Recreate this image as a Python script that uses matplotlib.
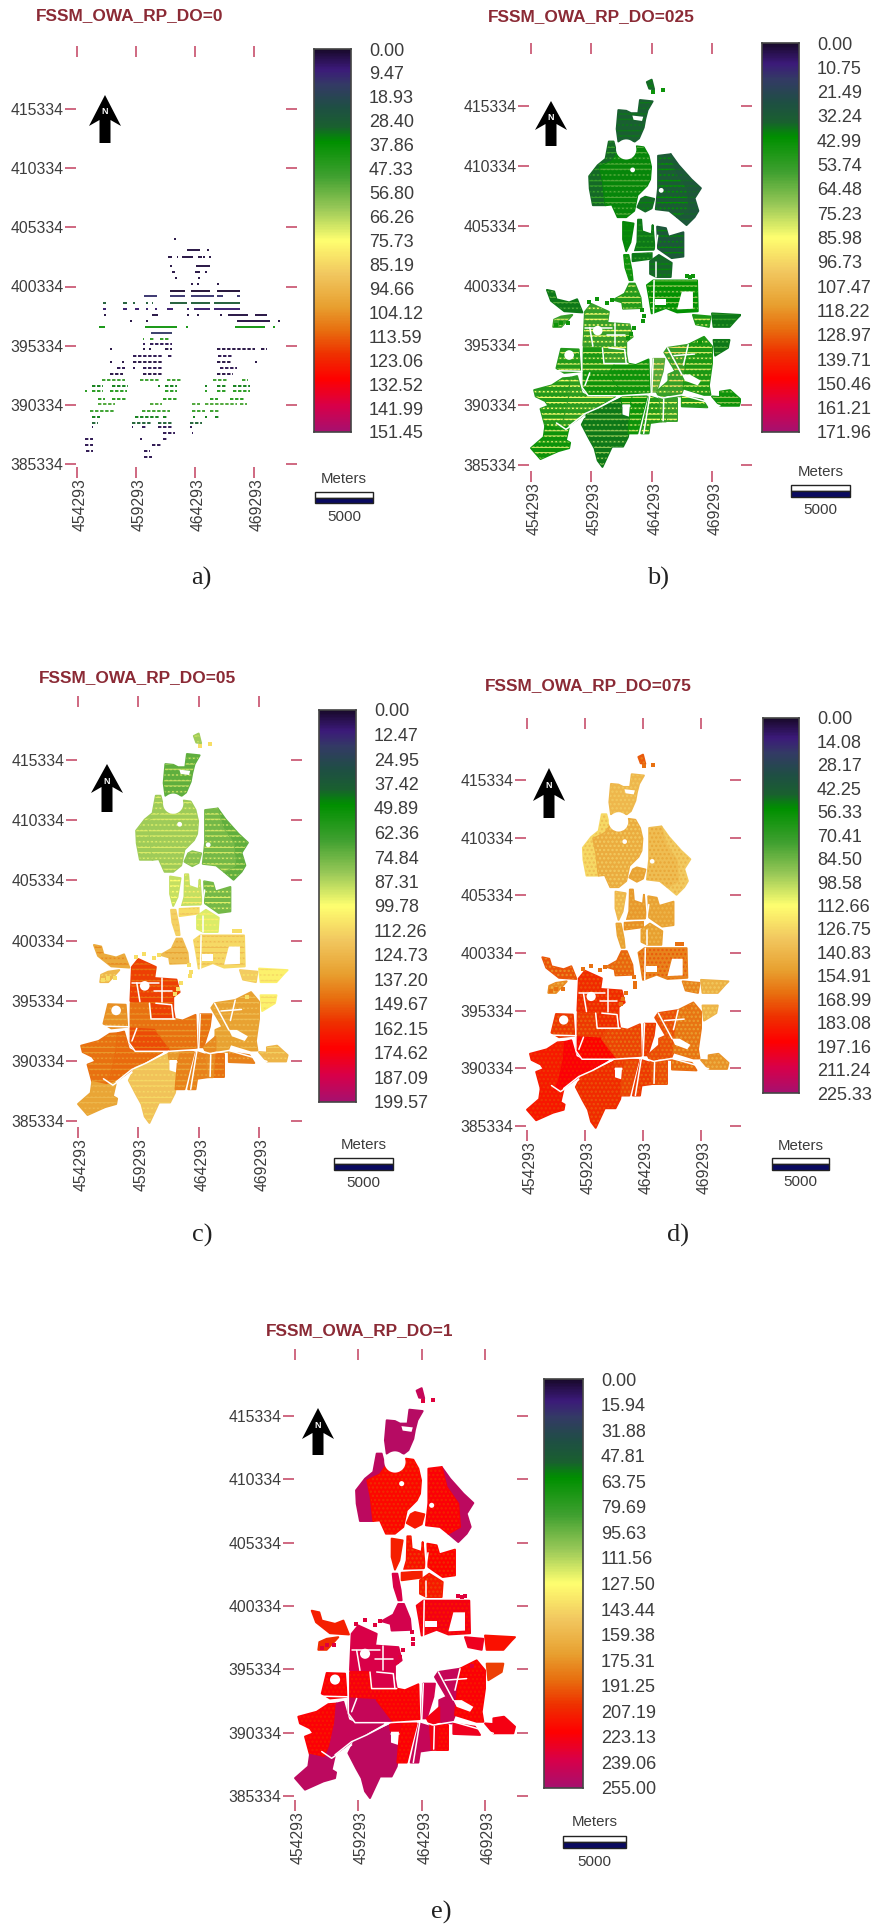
import matplotlib
matplotlib.use('Agg')
import matplotlib.pyplot as plt
from matplotlib.colors import LinearSegmentedColormap
from matplotlib.patches import Polygon, Circle, Rectangle
from matplotlib.transforms import ScaledTranslation
import numpy as np

# panel text and colour bar ticks
TITLES = ['FSSM_OWA_RP_DO=0', 'FSSM_OWA_RP_DO=025', 'FSSM_OWA_RP_DO=05', 'FSSM_OWA_RP_DO=075', 'FSSM_OWA_RP_DO=1']
CAPTIONS = ['a)', 'b)', 'c)', 'd)', 'e)']
TICKS_A = ['0.00', '9.47', '18.93', '28.40', '37.86', '47.33', '56.80', '66.26', '75.73', '85.19', '94.66', '104.12', '113.59', '123.06', '132.52', '141.99', '151.45']
TICKS_B = ['0.00', '10.75', '21.49', '32.24', '42.99', '53.74', '64.48', '75.23', '85.98', '96.73', '107.47', '118.22', '128.97', '139.71', '150.46', '161.21', '171.96']
TICKS_C = ['0.00', '12.47', '24.95', '37.42', '49.89', '62.36', '74.84', '87.31', '99.78', '112.26', '124.73', '137.20', '149.67', '162.15', '174.62', '187.09', '199.57']
TICKS_D = ['0.00', '14.08', '28.17', '42.25', '56.33', '70.41', '84.50', '98.58', '112.66', '126.75', '140.83', '154.91', '168.99', '183.08', '197.16', '211.24', '225.33']
TICKS_E = ['0.00', '15.94', '31.88', '47.81', '63.75', '79.69', '95.63', '111.56', '127.50', '143.44', '159.38', '175.31', '191.25', '207.19', '223.13', '239.06', '255.00']
ALL_TICKS = [TICKS_A, TICKS_B, TICKS_C, TICKS_D, TICKS_E]
EAST_TICKS = [454293, 459293, 464293, 469293]
NORTH_TICKS = [415334, 410334, 405334, 400334, 395334, 390334, 385334]

# map blocks, km east of 454293 / km north of 385334
BLOCKS = [
    [(9.6, 32.0), (10.0, 32.2), (10.2, 31.4), (9.8, 31.45)],
    [(7.24, 29.66), (7.89, 29.6), (8.29, 29.4), (8.89, 29.4), (9.03, 30.5), (10.08, 30.39), (9.66, 29.66), (9.47, 28.92), (9.34, 28.2), (8.95, 27.3), (8.6, 27.03), (7.89, 27.2), (7.24, 27.03), (7.1, 28.08)],
    [(6.45, 27.03), (6.84, 27.03), (7.11, 25.97), (6.71, 25.39), (5.71, 24.92), (5.97, 23.61), (6.18, 21.71), (5.13, 21.71), (4.87, 23.08), (4.82, 24.13), (5.53, 25.05), (6.18, 25.58)],
    [(7.11, 25.97), (7.5, 25.63), (7.89, 25.55), (8.42, 25.71), (8.76, 26.24), (8.76, 26.63), (9.34, 26.55), (9.74, 25.84), (9.95, 24.92), (9.87, 23.87), (9.61, 23.34), (8.82, 22.55), (8.55, 21.24), (7.89, 20.71), (7.18, 20.71), (6.71, 21.76), (6.18, 21.71), (5.97, 23.61), (5.71, 24.92), (6.71, 25.39)],
    [(11.58, 25.97), (12.24, 25.05), (13.29, 23.87), (14.08, 23.13), (13.55, 22.29), (13.87, 21.24), (13.55, 20.71), (12.89, 20.05), (12.11, 20.71), (13.03, 21.24), (12.89, 23.08), (11.97, 24.39)],
    [(10.53, 25.84), (11.58, 25.97), (11.97, 24.39), (12.89, 23.08), (13.03, 21.24), (12.11, 20.71), (11.45, 21.24), (10.34, 21.37), (10.53, 23.13)],
    [(9.47, 22.42), (10.21, 22.24), (10.0, 21.45), (9.47, 21.18), (8.82, 21.55), (9.13, 22.24)],
    [(7.63, 20.32), (8.5, 20.18), (8.24, 18.61), (7.89, 17.87), (7.63, 18.87)],
    [(8.87, 20.5), (9.13, 20.5), (9.21, 19.53), (10.0, 19.26), (10.08, 20.05), (10.24, 18.08), (10.08, 17.87), (8.61, 17.87), (8.82, 18.61)],
    [(10.45, 19.92), (11.18, 19.79), (11.39, 19.08), (12.63, 19.45), (12.63, 17.42), (11.66, 17.29), (10.53, 18.08)],
    [(8.42, 17.63), (10.0, 17.74), (10.0, 17.24), (8.42, 17.03)],
    [(9.87, 17.03), (10.6, 17.55), (11.66, 16.89), (11.58, 15.71), (10.39, 15.71), (9.87, 15.97)],
    [(7.71, 17.55), (8.08, 17.55), (8.34, 16.24), (8.42, 15.45), (8.16, 15.45), (7.82, 16.5)],
    [(8.16, 15.16), (8.6, 15.16), (9.08, 13.98), (9.16, 13.12), (7.63, 13.06), (7.55, 13.59), (6.84, 13.8), (7.76, 14.32)],
    [(9.61, 15.03), (10.13, 15.42), (11.71, 15.42), (13.76, 15.42), (13.82, 12.85), (12.11, 12.75), (11.18, 13.12), (10.0, 12.67), (9.82, 13.85)],
    [(1.32, 14.63), (1.92, 14.5), (2.11, 13.85), (3.16, 13.59), (3.82, 13.85), (4.26, 12.75), (2.76, 12.85), (1.66, 13.72)],
    [(1.84, 11.54), (1.92, 12.15), (2.5, 12.41), (3.42, 12.54), (3.0, 12.07), (2.5, 11.54)],
    [(4.47, 12.8), (5.0, 13.46), (6.45, 12.8), (6.32, 11.88), (8.16, 11.75), (8.42, 10.71), (7.89, 10.31), (7.89, 9.27), (8.03, 8.48), (6.05, 8.48), (5.92, 9.79), (4.34, 9.92)],
    [(4.34, 9.79), (5.92, 9.79), (6.05, 8.48), (6.97, 8.48), (6.45, 7.57), (4.26, 7.7)],
    [(4.26, 7.7), (6.45, 7.57), (7.76, 5.86), (4.74, 5.86), (4.21, 6.52)],
    [(6.97, 8.48), (8.03, 8.48), (8.68, 8.35), (9.74, 8.82), (9.82, 6.0), (7.76, 5.86), (6.45, 7.57)],
    [(2.11, 8.09), (2.5, 9.71), (3.95, 9.66), (4.08, 7.83), (2.76, 7.7)],
    [(0.26, 6.26), (1.71, 6.65), (2.63, 7.25), (3.29, 7.3), (3.16, 5.73), (2.76, 3.9), (2.37, 2.98), (1.18, 3.25), (0.79, 4.69), (1.45, 4.95), (1.18, 5.34), (0.39, 5.73)],
    [(3.29, 7.3), (3.82, 7.43), (4.21, 6.0), (4.74, 5.73), (6.97, 5.73), (4.47, 4.29), (3.16, 3.25), (2.37, 2.98), (2.76, 3.9), (3.16, 5.73)],
    [(2.37, 2.98), (3.16, 3.25), (2.89, 2.07), (3.24, 1.86), (3.16, 1.41), (2.24, 1.15), (0.79, 0.5), (0.0, 1.41), (1.05, 2.33), (1.18, 3.25)],
    [(7.5, 5.6), (7.5, 4.16), (8.29, 3.9), (8.03, 2.33), (7.63, 1.54), (6.71, 1.54), (5.92, -0.16), (5.53, 0.37), (5.26, 1.41), (4.82, 2.2), (4.21, 3.38), (4.74, 4.42), (6.05, 4.95)],
    [(8.34, 5.73), (9.61, 5.73), (9.13, 3.9), (8.82, 2.64), (8.08, 2.64)],
    [(9.82, 5.73), (10.66, 5.47), (10.79, 3.64), (9.87, 3.51), (9.74, 2.64), (9.13, 2.64)],
    [(11.32, 5.6), (12.11, 5.6), (12.11, 3.64), (11.18, 3.64)],
    [(10.13, 8.87), (11.05, 8.87), (10.92, 7.83), (10.39, 6.13), (10.0, 6.13)],
    [(11.32, 9.79), (13.03, 10.05), (12.76, 7.57), (12.63, 6.39), (12.37, 5.73), (11.39, 5.86), (11.39, 7.57), (11.97, 7.83), (11.05, 9.4)],
    [(13.03, 10.05), (14.34, 10.71), (15.0, 9.92), (15.0, 8.48), (14.74, 6.65), (14.87, 5.86), (14.34, 5.86), (12.63, 6.39), (12.76, 7.57)],
    [(15.13, 10.45), (16.45, 10.45), (16.32, 9.79), (15.26, 9.14)],
    [(15.0, 12.67), (17.37, 12.54), (17.11, 12.28), (16.45, 11.54), (15.13, 11.54)],
    [(13.42, 12.54), (14.87, 12.41), (14.74, 11.54), (13.68, 11.75)],
    [(12.5, 5.73), (14.21, 5.47), (14.61, 4.82), (12.5, 4.9)],
    [(15.0, 5.73), (15.66, 5.68), (15.66, 6.13), (16.5, 6.26), (17.37, 5.47), (17.24, 4.95), (15.66, 4.95)],
    [(7.5, 5.7), (8.34, 5.73), (8.2, 5.15), (7.55, 5.15)],
    [(10.66, 5.47), (11.32, 5.6), (11.18, 3.64), (10.79, 3.64)],
    [(10.4, 6.13), (11.39, 7.0), (11.39, 5.86), (10.66, 5.6)],
]

# block values read against each panel's colour bar (base colour, stripe colour)
B_BASE = [36, 34, 36, 40, 30, 32, 36, 40, 38, 30, 38, 35, 45, 50, 42, 38, 55, 55, 48, 45, 45, 50, 50, 52, 45, 38, 45, 50, 55, 60, 55, 48, 38, 38, 48, 50, 45, 45, 55, 55]
B_STRIPE = [40, 38, 55, 60, 36, 42, 40, 44, 50, 40, 55, 40, 60, 78, 70, 60, 78, 85, 80, 75, 72, 80, 85, 85, 78, 70, 78, 85, 85, 95, 95, 80, 60, 55, 80, 85, 70, 78, 85, 85]
C_BASE = [84, 72, 84, 84, 72, 76, 80, 90, 90, 76, 110, 94, 114, 122, 112, 130, 124, 156, 146, 154, 146, 138, 146, 148, 132, 120, 142, 142, 146, 146, 134, 134, 104, 104, 116, 142, 126, 136, 140, 140]
C_STRIPE = [90, 90, 94, 94, 90, 92, 90, 100, 105, 95, 118, 105, 120, 132, 122, 140, 112, 146, 138, 144, 136, 128, 136, 138, 124, 112, 132, 132, 136, 136, 124, 122, 112, 112, 108, 128, 114, 124, 128, 128]
D_BASE = [170, 140, 126, 146, 132, 138, 150, 140, 154, 150, 156, 152, 150, 168, 160, 172, 158, 182, 178, 194, 176, 178, 187, 196, 188, 182, 176, 178, 173, 178, 173, 164, 142, 144, 160, 167, 155, 178, 174, 174]
D_STRIPE = [160, 132, 138, 132, 142, 148, 140, 130, 144, 140, 144, 140, 142, 156, 170, 156, 142, 172, 168, 182, 164, 168, 178, 187, 178, 172, 166, 168, 162, 168, 162, 152, 130, 132, 146, 152, 142, 168, 165, 165]
E_BASE = [245, 250, 248, 218, 248, 222, 212, 210, 215, 220, 210, 212, 238, 240, 225, 210, 205, 238, 224, 245, 222, 222, 222, 245, 248, 248, 222, 245, 222, 240, 245, 222, 200, 215, 228, 228, 225, 225, 225, 225]
E_STRIPE = [245, 250, 248, 205, 248, 208, 212, 210, 200, 205, 210, 200, 238, 240, 212, 210, 205, 238, 212, 245, 212, 212, 212, 245, 248, 248, 212, 245, 212, 240, 245, 212, 200, 215, 228, 228, 225, 225, 225, 225]

# isolated cells: centre point, one value per panel b-e
SPECK_E = [10.1, 10.9, 9.21, 9.34, 9.29, 6.32, 4.82, 8.55, 8.29, 8.08, 13.16, 12.9, 13.4, 5.5, 6.7, 2.1, 2.5, 3.1, 14.0]
SPECK_N = [31.2, 31.3, 12.93, 12.41, 12.02, 13.53, 13.59, 11.49, 10.97, 10.58, 15.75, 15.8, 15.8, 13.9, 13.8, 11.7, 11.9, 11.9, 10.3]
SPECK_VALUES = [45, 110, 165, 235]

# white gaps: roads as polylines, holes as circles and polygons
ROADS = [
    [(4.21, 9.92), (4.21, 6.52), (4.74, 5.79), (7.5, 5.79), (9.87, 5.94)],
    [(7.5, 5.79), (5.66, 4.82), (4.47, 4.29), (3.16, 3.25)],
    [(9.87, 5.94), (9.34, 2.64)],
    [(9.87, 5.94), (10.92, 5.6), (12.5, 5.86), (14.34, 5.34), (15.66, 4.95)],
    [(11.32, 9.79), (12.5, 7.57)],
    [(10.13, 8.87), (10.0, 5.94)],
    [(5.92, 9.79), (6.05, 8.48), (8.03, 8.48)],
    [(6.97, 11.88), (6.97, 9.92)],
    [(6.32, 10.84), (7.76, 10.84)],
    [(6.45, 9.79), (7.76, 9.66), (7.89, 8.48)],
    [(4.87, 11.49), (5.13, 9.92)],
    [(4.47, 11.49), (6.71, 11.49)],
    [(2.11, 7.88), (4.21, 7.83)],
    [(4.87, 7.7), (4.47, 6.65)],
    [(2.11, 3.51), (2.89, 2.98), (4.47, 4.03)],
    [(13.03, 10.05), (12.63, 8.35)],
    [(11.84, 9.14), (13.55, 9.27)],
    [(10.2, 15.42), (10.15, 12.67)],
    [(8.42, 17.8), (10.3, 17.85), (10.5, 19.2)],
    [(10.35, 17.0), (10.35, 15.7)],
    [(7.6, 4.9), (8.2, 4.9)],
    [(11.0, 5.5), (10.95, 3.7)],
]
HOLE_E = [7.89, 8.42, 10.79, 5.53, 3.16]
HOLE_N = [26.37, 24.66, 22.95, 11.23, 9.19]
HOLE_R = [0.84, 0.2, 0.2, 0.4, 0.4]
HOLE_POLYS = [
    [(8.4, 29.2), (9.3, 29.1), (9.2, 28.75), (8.5, 28.85)],
    [(12.5, 14.5), (13.42, 14.5), (13.42, 13.06), (12.11, 13.0)],
    [(10.26, 13.85), (11.18, 13.85), (11.18, 13.33), (10.26, 13.33)],
    [(12.5, 7.57), (13.16, 7.57), (14.08, 7.04), (13.82, 6.65), (12.76, 7.04)],
]

# panel a, short raster runs in rows: northing, value, runs of (east start, east end)
A_ROW_N = [19.04, 18.05, 17.5, 16.7, 16.2, 15.7, 15.2, 14.66, 14.2, 13.6, 13.1, 12.6, 12.1, 11.6, 11.1, 10.56, 10.14, 9.7, 9.15, 8.64, 8.08, 7.6, 7.1, 6.6, 6.13, 5.48, 5.06, 4.5, 3.98, 3.5, 3.14, 2.66, 2.15, 1.6, 1.1, 0.62]
A_ROW_VALUE = [2, 2, 2, 2, 2, 2, 2, 1, 12, 28, 6, 2, 2, 40, 14, 46, 4, 2, 3, 2, 3, 2, 48, 34, 44, 44, 52, 48, 34, 30, 4, 3, 3, 3, 3, 3]
A_ROW_RUNS = [
    [(8.25, 8.4)],
    [(9.29, 10.42), (10.99, 11.15)],
    [(7.74, 8.02), (8.45, 8.6), (8.87, 9.86), (10.28, 10.56), (10.71, 10.85), (11.2, 11.35)],
    [(7.88, 8.02), (10.08, 11.27)],
    [(8.02, 8.31), (10.0, 10.42), (10.85, 11.0)],
    [(8.31, 8.45), (10.28, 10.42)],
    [(9.63, 9.86), (10.2, 10.35), (11.84, 12.0)],
    [(7.88, 9.15), (9.63, 11.27), (11.84, 13.81)],
    [(5.68, 6.81), (7.88, 9.15), (9.63, 11.61), (11.84, 12.4), (13.53, 13.81)],
    [(2.23, 2.46), (3.93, 4.21), (4.77, 4.9), (5.85, 6.05), (6.33, 6.45), (7.88, 9.29), (9.63, 11.27), (11.61, 13.81)],
    [(2.23, 2.46), (3.93, 4.21), (4.92, 5.28), (5.85, 6.05), (6.61, 6.75), (7.6, 8.16), (9.35, 9.5), (9.92, 11.27), (11.61, 13.81)],
    [(2.32, 2.46), (6.33, 6.89), (9.35, 9.5), (10.14, 10.3), (12.12, 12.3), (12.82, 14.52), (15.08, 16.07)],
    [(4.49, 4.65), (5.85, 6.05), (13.53, 16.36), (17.06, 17.2)],
    [(1.89, 2.37), (5.76, 8.45), (9.24, 9.4), (13.39, 15.93), (16.64, 16.8)],
    [(6.24, 8.02)],
    [(5.56, 5.7), (6.19, 6.61), (7.03, 7.88)],
    [(5.56, 5.76), (6.19, 8.02)],
    [(2.8, 2.95), (5.62, 5.75), (6.13, 6.28), (7.46, 8.02), (11.84, 15.08), (15.56, 16.07)],
    [(4.77, 7.18), (7.74, 8.02), (11.98, 13.25)],
    [(2.8, 2.95), (3.79, 3.95), (4.77, 7.32), (11.84, 13.11), (15.08, 15.25)],
    [(3.36, 4.07), (4.77, 4.92), (5.62, 7.32), (12.12, 13.53)],
    [(2.8, 3.93), (5.62, 7.32), (11.84, 13.25)],
    [(2.09, 4.07), (5.34, 7.03), (7.6, 8.87), (11.56, 12.68), (13.95, 14.52)],
    [(1.24, 2.23), (2.94, 4.35), (6.89, 7.05), (7.46, 8.45), (10.85, 11.0), (11.84, 12.68), (13.25, 14.66)],
    [(0.68, 0.82), (1.24, 2.23), (2.8, 4.21), (7.46, 8.45), (10.85, 11.0), (11.84, 12.68), (13.25, 14.66)],
    [(1.81, 2.37), (2.94, 4.21), (7.32, 8.45), (11.27, 11.98), (12.96, 14.24)],
    [(1.81, 3.22), (6.19, 7.18), (9.72, 10.42), (10.85, 13.53), (13.81, 14.38)],
    [(1.1, 3.22), (5.48, 7.88), (9.72, 10.85), (11.27, 12.12)],
    [(1.24, 1.95), (4.92, 7.03), (7.32, 7.74), (9.86, 10.0), (10.85, 11.0), (11.69, 12.12)],
    [(1.24, 1.81), (4.63, 6.33), (6.89, 8.16), (9.58, 10.56)],
    [(1.24, 1.38), (4.63, 4.78), (5.48, 5.9), (6.89, 8.16), (9.58, 9.72)],
    [(7.32, 8.31), (9.72, 9.87)],
    [(0.68, 1.38), (5.34, 5.5), (7.32, 7.74)],
    [(0.68, 1.38), (6.33, 7.18)],
    [(0.76, 1.38), (5.68, 6.19)],
    [(5.68, 6.33)],
]

BAR_COLOURS = [(0, '#1a0a2e'), (0.05, '#3c1a7a'), (0.09, '#343a66'), (0.15, '#1f4f44'), (0.2, '#1a6030'), (0.24, '#009000'),
               (0.33, '#3fa030'), (0.415, '#98c858'), (0.5, '#ffff70'), (0.587, '#f2c860'), (0.674, '#e8a030'), (0.735, '#e87010'),
               (0.8, '#ef3000'), (0.865, '#ff0000'), (0.935, '#d8004a'), (1, '#a8106e')]

# layout in reference pixels
W, H = 878, 1925
X_TICK_PX = [(77, 254), (531, 712), (78, 259), (527, 701), (295, 485)]
Y_TICK_PX = [(109, 464), (106, 465), (760, 1121), (780, 1126), (1416, 1796)]
FRAME_PX = [(76, 286, 57, 467), (529, 741, 54, 471), (77, 291, 707, 1127), (526, 730, 729, 1130), (294, 517, 1360, 1800)]
BAR_PX = [(314, 351, 49, 432), (762, 799, 43, 432), (319, 356, 710, 1102), (763, 799, 718, 1093), (544, 583, 1379, 1788)]
TITLE_PX = [(130, 16), (591, 17), (138, 678), (588, 686), (360, 1331)]
CAPTION_PX = [(201, 578), (658, 578), (202, 1235), (678, 1235), (441, 1912)]
ARROW_PX = [(105, 95, 126, 143), (551, 101, 130, 146), (107, 764, 793, 812), (549, 768, 801, 818), (318, 1408, 1439, 1455)]
SCALE_PX = [(315, 373, 492, 503, 479, 517), (791, 850, 485, 497, 472, 510), (334, 393, 1158, 1170, 1145, 1183), (772, 829, 1158, 1170, 1146, 1182), (563, 626, 1836, 1848, 1822, 1862)]
STYLE = [None, '---', '---', '....', '....']

plt.rcParams['font.family'] = ['Liberation Sans', 'DejaVu Sans']
plt.rcParams['hatch.linewidth'] = 1.1
TICK_RED = '#c2405f'
GREY = '#3c3c3c'
cmap = LinearSegmentedColormap.from_list('bar', BAR_COLOURS)

fig = plt.figure(figsize=(W / 100, H / 100), dpi=100)


def fx(x):
    return x / W


def fy(y):
    return 1 - y / H


def draw_map(ax, base, stripe, hatch, vmax, speck_value):
    for block, v0, v1 in zip(BLOCKS, base, stripe):
        pts = [(454293 + e * 1000, 385334 + n * 1000) for e, n in block]
        ax.add_patch(Polygon(pts, closed=True, facecolor=cmap(v0 / vmax), edgecolor=cmap(v0 / vmax), lw=1.4, joinstyle='round'))
        if v0 != v1:
            ax.add_patch(Polygon(pts, closed=True, facecolor='none', edgecolor=cmap(v1 / vmax), lw=0, hatch=hatch))
            if '-' in hatch:
                # breaks the stripes up so they look mottled
                ax.add_patch(Polygon(pts, closed=True, facecolor='none', edgecolor=cmap(v0 / vmax), lw=0, hatch='....'))
    for road in ROADS:
        ax.plot([454293 + e * 1000 for e, n in road], [385334 + n * 1000 for e, n in road], color='white', lw=1.1, solid_capstyle='round')
    for e, n, r in zip(HOLE_E, HOLE_N, HOLE_R):
        ax.add_patch(Circle((454293 + e * 1000, 385334 + n * 1000), r * 1000, facecolor='white', edgecolor='none'))
    for poly in HOLE_POLYS:
        ax.add_patch(Polygon([(454293 + e * 1000, 385334 + n * 1000) for e, n in poly], facecolor='white', edgecolor='none'))
    ax.scatter(454293 + np.array(SPECK_E) * 1000, 385334 + np.array(SPECK_N) * 1000, s=6, marker='s', color=cmap(speck_value / vmax), lw=0)


def draw_rows(ax, vmax):
    for n, value, runs in zip(A_ROW_N, A_ROW_VALUE, A_ROW_RUNS):
        style = 'solid' if n > 11 else (0, (1.8, 0.9))
        for e0, e1 in runs:
            ax.hlines(385334 + n * 1000, 454293 + e0 * 1000, 454293 + e1 * 1000, color=cmap(value / vmax), lw=1.35, linestyles=style)


tables = [None, (B_BASE, B_STRIPE), (C_BASE, C_STRIPE), (D_BASE, D_STRIPE), (E_BASE, E_STRIPE)]

for i in range(5):
    left, right, top, bottom = FRAME_PX[i]
    ax = fig.add_axes([fx(left), fy(bottom), (right - left) / W, (bottom - top) / H])
    x0, x1 = X_TICK_PX[i]
    y0, y1 = Y_TICK_PX[i]
    sx = 15000 / (x1 - x0)
    sy = 30000 / (y1 - y0)
    ax.set_xlim(EAST_TICKS[0] + (left - x0) * sx, EAST_TICKS[0] + (right - x0) * sx)
    ax.set_ylim(NORTH_TICKS[-1] + (y1 - bottom) * sy, NORTH_TICKS[-1] + (y1 - top) * sy)
    ax.set_xticks(EAST_TICKS)
    ax.set_yticks(NORTH_TICKS)
    ax.set_xticklabels([str(v) for v in EAST_TICKS], rotation=90)
    ax.set_yticklabels([str(v) for v in NORTH_TICKS])
    ax.tick_params(direction='out', length=8, width=1.1, color=TICK_RED, top=True, right=True, labelsize=11.3, labelcolor=GREY, pad=1)
    ax.tick_params(axis='x', pad=0)
    for lab in ax.get_xticklabels():
        lab.set_transform(lab.get_transform() + ScaledTranslation(3 / 100, 0, fig.dpi_scale_trans))
    for s in ax.spines.values():
        s.set_visible(False)

    vmax = float(ALL_TICKS[i][-1])
    if i == 0:
        draw_rows(ax, vmax)
    else:
        base, stripe = tables[i]
        draw_map(ax, base, stripe, STYLE[i], vmax, SPECK_VALUES[i - 1])

    # colour bar
    l, r, t, b = BAR_PX[i]
    cax = fig.add_axes([fx(l), fy(b), (r - l) / W, (b - t) / H])
    cax.imshow(np.linspace(0, 1, 400).reshape(-1, 1), cmap=cmap, aspect='auto', extent=[0, 1, vmax, 0])
    cax.set_xticks([])
    cax.yaxis.tick_right()
    cax.set_yticks([float(v) for v in ALL_TICKS[i]])
    cax.set_yticklabels(ALL_TICKS[i])
    cax.tick_params(axis='y', length=0, pad=13, labelsize=13, labelcolor=GREY)
    for s in cax.spines.values():
        s.set_color('#444444')
        s.set_linewidth(1.2)

    # texts
    fig.text(fx(TITLE_PX[i][0]), fy(TITLE_PX[i][1]), TITLES[i], color='#8b2a35', fontsize=12.4, fontweight='bold', ha='center', va='center')
    fig.text(fx(CAPTION_PX[i][0]), fy(CAPTION_PX[i][1]), CAPTIONS[i], family='Liberation Serif', color='#222222', fontsize=19, ha='center', va='center')

    # north arrow
    cx, a_top, a_head, a_bot = ARROW_PX[i]
    arrow = [(cx, a_top), (cx + 16, a_head), (cx + 5.5, a_head - 6), (cx + 5.5, a_bot), (cx - 5.5, a_bot), (cx - 5.5, a_head - 6), (cx - 16, a_head)]
    fig.add_artist(Polygon([(fx(x), fy(y)) for x, y in arrow], closed=True, transform=fig.transFigure, facecolor='black', edgecolor='none'))
    fig.text(fx(cx), fy(a_top + 17), 'N', color='white', fontsize=6.5, fontweight='bold', ha='center', va='center')

    # scale bar
    sl, sr, st, sb, my, ny = SCALE_PX[i]
    sm = (st + sb) / 2
    fig.add_artist(Rectangle((fx(sl), fy(sm)), (sr - sl) / W, (sm - st) / H, transform=fig.transFigure, facecolor='white', edgecolor='#222222', lw=1))
    fig.add_artist(Rectangle((fx(sl), fy(sb)), (sr - sl) / W, (sb - sm) / H, transform=fig.transFigure, facecolor='#0a0a60', edgecolor='#222222', lw=1))
    fig.text(fx((sl + sr) / 2), fy(my), 'Meters', color=GREY, fontsize=10.8, ha='center', va='center')
    fig.text(fx((sl + sr) / 2), fy(ny), '5000', color=GREY, fontsize=11, ha='center', va='center')

fig.savefig('out.png', dpi=100)
